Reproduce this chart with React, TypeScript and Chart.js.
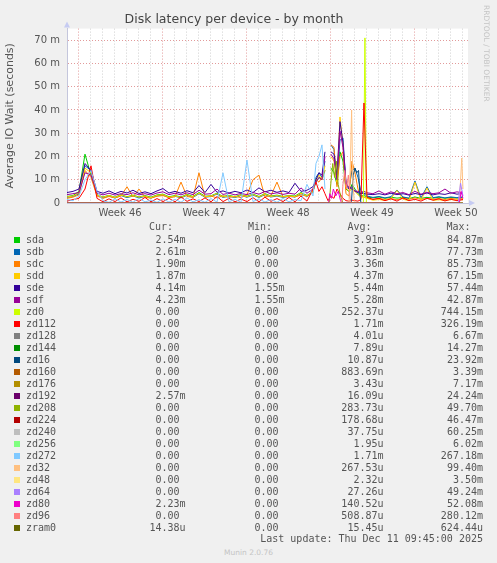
import React, { useEffect, useRef } from 'react';
import { Chart, registerables } from 'chart.js';

Chart.register(...registerables);

// time axis, in days from the left edge of the plot
const days = [
  0, 0.5, 1, 1.5, 2, 2.5, 3, 3.5, 4, 4.5, 5, 5.5, 6, 6.5, 7, 7.5, 8, 8.5, 9, 9.5, 10,
  10.5, 11, 11.5, 12, 12.5, 13, 13.5, 14, 14.5, 15, 15.5, 16, 16.5, 17, 17.5, 18, 18.5, 19, 19.5, 20, 20.5,
  20.75, 21, 21.25, 21.5, 21.75, 22, 22.25, 22.5, 22.75, 23, 23.25, 23.5, 23.75, 24, 24.25, 24.5, 24.75, 25,
  25.5, 26, 26.5, 27, 27.5, 28, 28.5, 29, 29.5, 30, 30.5, 31, 31.5, 32, 32.5, 33,
];

// values in milliseconds of IO wait, sampled on `days`
const sda = [
  2.8, 3.2, 5, 21, 12, 3.5, 2.6, 3.3, 2.5, 3.6, 2.7, 3.4, 2.6, 3.2, 2.5, 3.5, 3.8, 2.7, 3.2, 2.6, 3.7,
  2.8, 4.5, 2.9, 3.1, 4.2, 2.8, 3.3, 2.7, 3.6, 2.9, 3.8, 2.8, 4.0, 3.0, 3.4, 2.8, 3.2, 3.0, 4.5, 3.2, 5.0,
  9, 11, 10, 14, null, 15, 13, 8, 22, 18, 6, 5, 8, 6, 4, 3, 3.2, 2.6,
  2.2, 2.6, 2.0, 2.5, 2.1, 2.4, 1.9, 2.6, 2.0, 2.4, 2.1, 2.5, 2.0, 2.4, 2.1, 2.5,
];
const sdb = [
  2.4, 2.8, 4, 16, 14, 3.5, 2.2, 3.0, 2.1, 3.2, 2.3, 3.0, 2.2, 2.8, 2.1, 3.1, 3.4, 2.3, 2.9, 2.2, 3.3,
  2.4, 4.0, 2.5, 2.8, 3.8, 2.4, 2.9, 2.3, 3.2, 2.5, 3.4, 2.4, 3.6, 2.6, 3.0, 2.4, 2.8, 2.6, 4.0, 2.8, 4.5,
  11, 13, 11, 18, null, 25, 23, 9, 27, 28, 8, 6, 14, 15, 11, 5, 4, 3,
  2.4, 2.8, 2.2, 2.7, 5.6, 2.6, 2.1, 9.5, 2.2, 7.0, 2.3, 2.7, 2.2, 2.6, 2.3, 2.6,
];
const sdc = [
  2.0, 2.5, 3.5, 14, 11, 3.0, 2.0, 2.8, 2.2, 3.0, 7.0, 2.6, 6.0, 2.5, 2.1, 2.9, 3.2, 2.3, 2.7, 9.0, 2.8,
  2.4, 13, 2.6, 3.0, 2.2, 3.1, 2.4, 2.9, 2.3, 3.5, 10, 12, 2.6, 3.2, 9.0, 2.7, 3.0, 2.6, 3.4, 3.0, 5.0,
  10, 9, 11, 14, null, 25, 24, 7, 20, 22, 4, 3, 18, 13, 6, 3, 2.5, 2.0,
  1.6, 2.0, 1.5, 1.9, 1.4, 2.0, 1.6, 2.2, 1.5, 2.0, 1.6, 1.9, 1.5, 2.0, 1.6, 1.9,
];
const sdd = [
  2.6, 3.0, 4.5, 15, 13, 3.5, 2.5, 3.2, 2.4, 3.4, 2.6, 3.1, 2.5, 3.0, 2.3, 3.3, 3.6, 2.5, 3.0, 2.4, 3.5,
  2.6, 4.2, 2.7, 3.0, 4.0, 2.6, 3.1, 2.5, 3.4, 2.7, 3.6, 2.6, 3.8, 2.8, 3.2, 2.6, 3.0, 2.8, 4.2, 3.0, 4.8,
  10, 12, 10, 16, null, 20, 18, 9, 37, 25, 7, 5, 6, 5, 3.5, 2.5, 2.6, 2.0,
  1.2, 1.5, 1.1, 1.9, 5.4, 1.6, 1.0, 9.0, 1.2, 6.5, 1.1, 1.4, 1.0, 1.5, 1.2, 1.4,
];
const sde = [
  4.5, 5, 6, 17, 14, 5, 4.2, 5.2, 4.0, 5.0, 4.3, 5.5, 4.1, 4.8, 4.0, 5.2, 6.2, 4.3, 5.0, 4.2, 5.3,
  4.4, 7.5, 4.5, 8.0, 4.6, 5.2, 4.3, 5.0, 4.4, 5.6, 4.5, 6.5, 4.8, 5.5, 4.6, 5.2, 4.5, 8.5, 5.0, 5.5, 7.0,
  10, 13, 12, 22, null, 22, 21, 12, 35, 26, 9, 6, 7, 5, 4.5, 4, 4.2, 3.8,
  3.6, 4.0, 3.5, 4.2, 3.6, 4.0, 3.4, 4.1, 3.6, 4.3, 3.5, 4.0, 3.7, 4.4, 3.8, 4.1,
];
const sdf = [
  3.6, 4.0, 4.5, 13, 12, 4.2, 3.5, 4.2, 3.4, 4.0, 3.6, 4.4, 3.5, 4.0, 3.4, 4.3, 4.8, 3.6, 4.2, 3.5, 4.4,
  3.6, 5.5, 3.8, 4.0, 6.0, 3.7, 4.2, 3.5, 4.1, 3.6, 4.5, 3.8, 5.0, 3.9, 4.4, 3.7, 4.2, 3.8, 6.5, 4.2, 6.0,
  9, 11, 10, 20, null, 21, 19, 10, 31, 24, 8, 7, 6, 5.2, 5.0, 4.6, 5.0, 4.4,
  4.0, 5.2, 3.8, 4.8, 4.0, 4.5, 3.6, 5.0, 3.8, 4.6, 4.0, 4.4, 6.0, 4.2, 4.8, 4.3,
];
const zd112 = [
  0.8, 1.5, 2.0, 6.0, 16, 2.0, 0.5, 1.8, 0.6, 2.2, 0.5, 1.6, 0.7, 2.4, 0.5, 1.9, 0.6, 2.0, 0.5, 2.6, 0.7,
  1.8, 0.6, 2.2, 0.5, 2.8, 0.6, 2.0, 0.5, 1.7, 0.6, 2.3, 0.5, 2.5, 0.7, 1.9, 0.6, 2.4, 0.5, 3.0, 0.8, 6.0,
  9, 5, 7, 4, 1.0, 3.0, 2.0, 6.0, 4.0, 2.0, 1.0, 0.8, 1.2, 1.0, 0.8, 1.5, 43, 2.5,
  1.5, 2.0, 1.0, 1.8, 0.8, 2.2, 1.0, 1.6, 0.8, 2.0, 1.2, 1.8, 0.9, 1.6, 1.0, 1.5,
];
const zd272 = [
  1.5, 1.0, 3.0, 10, 14, 5, 1.0, 0.3, 1.8, 0.4, 1.5, 0.3, 2.0, 0.5, 1.2, 0.3, 1.8, 0.4, 1.6, 0.3, 2.2,
  0.5, 1.4, 0.3, 1.9, 0.4, 13, 0.5, 1.6, 0.3, 18.5, 0.6, 1.8, 0.4, 1.5, 0.3, 2.0, 0.5, 1.5, 1.0, 8.0, 3.0,
  17, 20, 25, 6, null, 0, 0, 0, 0, 0, 0, 0, 0, 0, 0, 0, 0, 0,
  0, 0, 0, 0, 0, 0, 0, 0, 0, 0, 0, 0, 0, 0, 0, 0,
];

// short bursts as [day, value]
const zd0Bursts: [number, number][] = [[0, 0], [24.7, 0], [24.83, 71], [24.95, 0], [33, 0]];
const zd208Bursts: [number, number][] = [
  [0, 0], [21.85, 0], [22.0, 9], [22.15, 17], [22.3, 11], [22.45, 18], [22.6, 8], [22.8, 3], [23.0, 0], [33, 0],
];
const zd80Bursts: [number, number][] = [
  [0, 0], [21.8, 0], [21.9, 4], [22.05, 2], [22.2, 6], [22.4, 3], [22.6, 5], [22.8, 1], [22.9, 0],
  [32.7, 0], [32.85, 5], [33, 2],
];
const zd96Bursts: [number, number][] = [
  [0, 0], [22.9, 0], [23.0, 8], [23.15, 14], [23.3, 6], [23.45, 12], [23.6, 2], [23.7, 0], [33, 0],
];
const zd32Bursts: [number, number][] = [
  [0, 0], [23.5, 0], [23.62, 18], [23.72, 40], [23.82, 9], [23.95, 0], [32.7, 0], [32.9, 19.3], [33, 6],
];
const zd16Bursts: [number, number][] = [
  [0, 0], [23.7, 0], [23.85, 12], [24.0, 15], [24.15, 13], [24.3, 14], [24.4, 4], [24.5, 0], [33, 0],
];
const zd64Bursts: [number, number][] = [[0, 0], [32.6, 0], [32.8, 8.5], [33, 3]];
const idleLine: [number, number][] = [[0, 0], [33, 0]];

const seriesNames = [
  'sda', 'sdb', 'sdc', 'sdd', 'sde', 'sdf', 'zd0', 'zd112', 'zd128', 'zd144', 'zd16', 'zd160', 'zd176',
  'zd192', 'zd208', 'zd224', 'zd240', 'zd256', 'zd272', 'zd32', 'zd48', 'zd64', 'zd80', 'zd96', 'zram0',
];
const seriesColors = [
  '#00CC00', '#0066B3', '#FF8000', '#FFCC00', '#330099', '#990099', '#CCFF00', '#FF0000', '#808080',
  '#008F00', '#00487D', '#B35A00', '#B38F00', '#6B006B', '#8FB300', '#B30000', '#BEBEBE', '#80FF80',
  '#80C9FF', '#FFC080', '#FFE680', '#AA80FF', '#EE00CC', '#FF8080', '#666600',
];
const curValues = [
  '2.54m', '2.61m', '1.90m', '1.87m', '4.14m', '4.23m', '0.00', '0.00', '0.00', '0.00', '0.00', '0.00', '0.00',
  '2.57m', '0.00', '0.00', '0.00', '0.00', '0.00', '0.00', '0.00', '0.00', '2.23m', '0.00', '14.38u',
];
const minValues = [
  '0.00', '0.00', '0.00', '0.00', '1.55m', '1.55m', '0.00', '0.00', '0.00', '0.00', '0.00', '0.00', '0.00',
  '0.00', '0.00', '0.00', '0.00', '0.00', '0.00', '0.00', '0.00', '0.00', '0.00', '0.00', '0.00',
];
const avgValues = [
  '3.91m', '3.83m', '3.36m', '4.37m', '5.44m', '5.28m', '252.37u', '1.71m', '4.01u', '7.89u', '10.87u',
  '883.69n', '3.43u', '16.09u', '283.73u', '178.68u', '37.75u', '1.95u', '1.71m', '267.53u', '2.32u',
  '27.26u', '140.52u', '508.87u', '15.45u',
];
const maxValues = [
  '84.87m', '77.73m', '85.73m', '67.15m', '57.44m', '42.87m', '744.15m', '326.19m', '6.67m', '14.27m',
  '23.92m', '3.39m', '7.17m', '24.24m', '49.70m', '46.47m', '60.25m', '6.02m', '267.18m', '99.40m',
  '3.50m', '49.24m', '52.08m', '280.12m', '624.44u',
];

const weekLabels = ['Week 46', 'Week 47', 'Week 48', 'Week 49', 'Week 50'];
const firstWeekLine = 0.92; // day offset of the first week boundary
const xMax = 33.42;

const sampled: Record<string, (number | null)[]> = { sda, sdb, sdc, sdd, sde, sdf, zd112, zd272 };
const bursts: Record<string, [number, number][]> = {
  zd0: zd0Bursts, zd208: zd208Bursts, zd80: zd80Bursts, zd96: zd96Bursts,
  zd32: zd32Bursts, zd16: zd16Bursts, zd64: zd64Bursts,
};

const TEXT = '#555';
const SANS = 'DejaVu Sans';
const MONO = 'DejaVu Sans Mono';
const MAJOR_GRID = '#e29a9a';
const MINOR_GRID = '#cfcfcf';

const plotBackground = {
  id: 'plotBackground',
  beforeDraw(chart: any) {
    const { ctx, chartArea: a } = chart;
    ctx.save();
    ctx.fillStyle = '#ffffff';
    ctx.fillRect(a.left, a.top, a.right - a.left, a.bottom - a.top);
    ctx.restore();
  },
};

const axisArrows = {
  id: 'axisArrows',
  afterDraw(chart: any) {
    const { ctx, chartArea: a } = chart;
    ctx.save();
    ctx.fillStyle = '#c6cbf2';
    ctx.beginPath();
    ctx.moveTo(a.left - 3, a.top - 1);
    ctx.lineTo(a.left + 3, a.top - 1);
    ctx.lineTo(a.left, a.top - 7);
    ctx.fill();
    ctx.beginPath();
    ctx.moveTo(a.right + 1, a.bottom - 3);
    ctx.lineTo(a.right + 1, a.bottom + 3);
    ctx.lineTo(a.right + 7, a.bottom);
    ctx.fill();
    ctx.restore();
  },
};

function pointsFor(name: string) {
  if (sampled[name]) return days.map((d, i) => ({ x: d, y: sampled[name][i] }));
  const list = bursts[name] || idleLine;
  return list.map(([x, y]) => ({ x, y }));
}

const isWeekLabelTick = (v: number) =>
  weekLabels.findIndex((_, k) => Math.abs(firstWeekLine + 3.5 + 7 * k - v) < 0.01);

export default function App() {
  const chartRef = useRef<HTMLCanvasElement>(null);
  const chartInstance = useRef<Chart | null>(null);

  useEffect(() => {
    if (!chartRef.current) return;
    if (chartInstance.current) chartInstance.current.destroy();

    const datasets = seriesNames.map((name, i) => ({
      label: name,
      data: pointsFor(name),
      borderColor: seriesColors[i],
      backgroundColor: seriesColors[i],
      borderWidth: 1,
      pointRadius: 0,
      tension: 0,
      fill: false,
      order: seriesNames.length - i,
    }));

    chartInstance.current = new Chart(chartRef.current, {
      type: 'line',
      data: { datasets },
      plugins: [plotBackground, axisArrows],
      options: {
        responsive: false,
        animation: false,
        events: [],
        layout: { padding: { left: 0, right: 29, top: 0, bottom: 0 } },
        plugins: {
          legend: { display: false },
          tooltip: { enabled: false },
          title: {
            display: true,
            text: 'Disk latency per device - by month',
            color: '#444',
            font: { family: SANS, size: 12.5, weight: 'normal' },
            padding: { top: 12, bottom: 1.6 },
          },
        },
        scales: {
          x: {
            type: 'linear',
            min: 0,
            max: xMax,
            afterBuildTicks: (scale: any) => {
              const ticks = [];
              for (let d = firstWeekLine; d <= xMax; d += 1) ticks.push({ value: d });
              weekLabels.forEach((_, k) => ticks.push({ value: firstWeekLine + 3.5 + 7 * k }));
              ticks.sort((a, b) => a.value - b.value);
              scale.ticks = ticks;
            },
            afterFit: (scale: any) => {
              scale.height = 22;
            },
            ticks: {
              autoSkip: false,
              maxRotation: 0,
              padding: 4,
              color: TEXT,
              font: { family: SANS, size: 10 },
              callback: (value: any) => {
                const k = isWeekLabelTick(Number(value));
                return k >= 0 ? weekLabels[k] : '';
              },
            },
            grid: {
              drawTicks: false,
              color: (ctx: any) => {
                const v = ctx.tick ? ctx.tick.value : 0;
                if (isWeekLabelTick(v) >= 0) return 'rgba(0,0,0,0)';
                const n = Math.round(v - firstWeekLine);
                return n % 7 === 0 ? MAJOR_GRID : MINOR_GRID;
              },
            },
            border: { display: true, color: '#c4c6dc', dash: [1, 2] },
          },
          y: {
            type: 'linear',
            min: 0,
            max: 75,
            afterFit: (scale: any) => {
              scale.width = 67;
            },
            ticks: {
              stepSize: 5,
              padding: 7,
              color: TEXT,
              font: { family: SANS, size: 10 },
              callback: (value: any) => {
                const v = Number(value);
                if (v % 10 !== 0) return '';
                return v === 0 ? '0' : `${v} m`;
              },
            },
            grid: {
              drawTicks: false,
              color: (ctx: any) => {
                const v = ctx.tick ? ctx.tick.value : 0;
                return v % 10 === 0 ? MAJOR_GRID : MINOR_GRID;
              },
            },
            border: { display: true, color: '#c4c6dc', dash: [1, 2] },
            title: {
              display: true,
              text: 'Average IO Wait (seconds)',
              color: TEXT,
              font: { family: SANS, size: 11 },
              padding: { top: 4, bottom: 0 },
            },
          },
        },
      },
    } as any);

    return () => {
      if (chartInstance.current) {
        chartInstance.current.destroy();
        chartInstance.current = null;
      }
    };
  }, []);

  const cell = (text: string, right: number, top: number) => (
    <span
      style={{ position: 'absolute', right: 497 - right, top, whiteSpace: 'pre' }}
    >
      {/\d$/.test(text) ? text + ' ' : text}
    </span>
  );

  return (
    <div
      style={{
        position: 'absolute',
        left: 0,
        top: 0,
        width: 497,
        height: 563,
        background: '#f0f0f0',
        overflow: 'hidden',
        fontFamily: MONO,
        fontSize: 10,
        lineHeight: '12px',
        color: TEXT,
      }}
    >
      <canvas ref={chartRef} width={497} height={225} style={{ position: 'absolute', left: 0, top: 0 }} />
      <div
        style={{
          position: 'absolute',
          left: 482,
          top: 5,
          writingMode: 'vertical-rl',
          fontFamily: SANS,
          fontSize: 7.5,
          lineHeight: '9px',
          color: '#c4c4c4',
        }}
      >
        RRDTOOL / TOBI OETIKER
      </div>
      <span style={{ position: 'absolute', left: 149, top: 221 }}>Cur:</span>
      <span style={{ position: 'absolute', left: 248, top: 221 }}>Min:</span>
      <span style={{ position: 'absolute', left: 347.5, top: 221 }}>Avg:</span>
      <span style={{ position: 'absolute', left: 446.5, top: 221 }}>Max:</span>
      {seriesNames.map((name, i) => {
        const top = 233.7 + 12 * i;
        return (
          <React.Fragment key={name}>
            <span
              style={{
                position: 'absolute',
                left: 14,
                top: top + 3,
                width: 6,
                height: 6,
                background: seriesColors[i],
              }}
            />
            <span style={{ position: 'absolute', left: 26, top }}>{name}</span>
            {cell(curValues[i], 185.5, top)}
            {cell(minValues[i], 284.5, top)}
            {cell(avgValues[i], 383.5, top)}
            {cell(maxValues[i], 483, top)}
          </React.Fragment>
        );
      })}
      <span style={{ position: 'absolute', right: 497 - 483, top: 533.3, whiteSpace: 'pre' }}>
        Last update: Thu Dec 11 09:45:00 2025
      </span>
      <div
        style={{
          position: 'absolute',
          left: 0,
          width: 497,
          top: 548,
          textAlign: 'center',
          fontFamily: SANS,
          fontSize: 7.5,
          lineHeight: '9px',
          color: '#c4c4c4',
        }}
      >
        Munin 2.0.76
      </div>
    </div>
  );
}
